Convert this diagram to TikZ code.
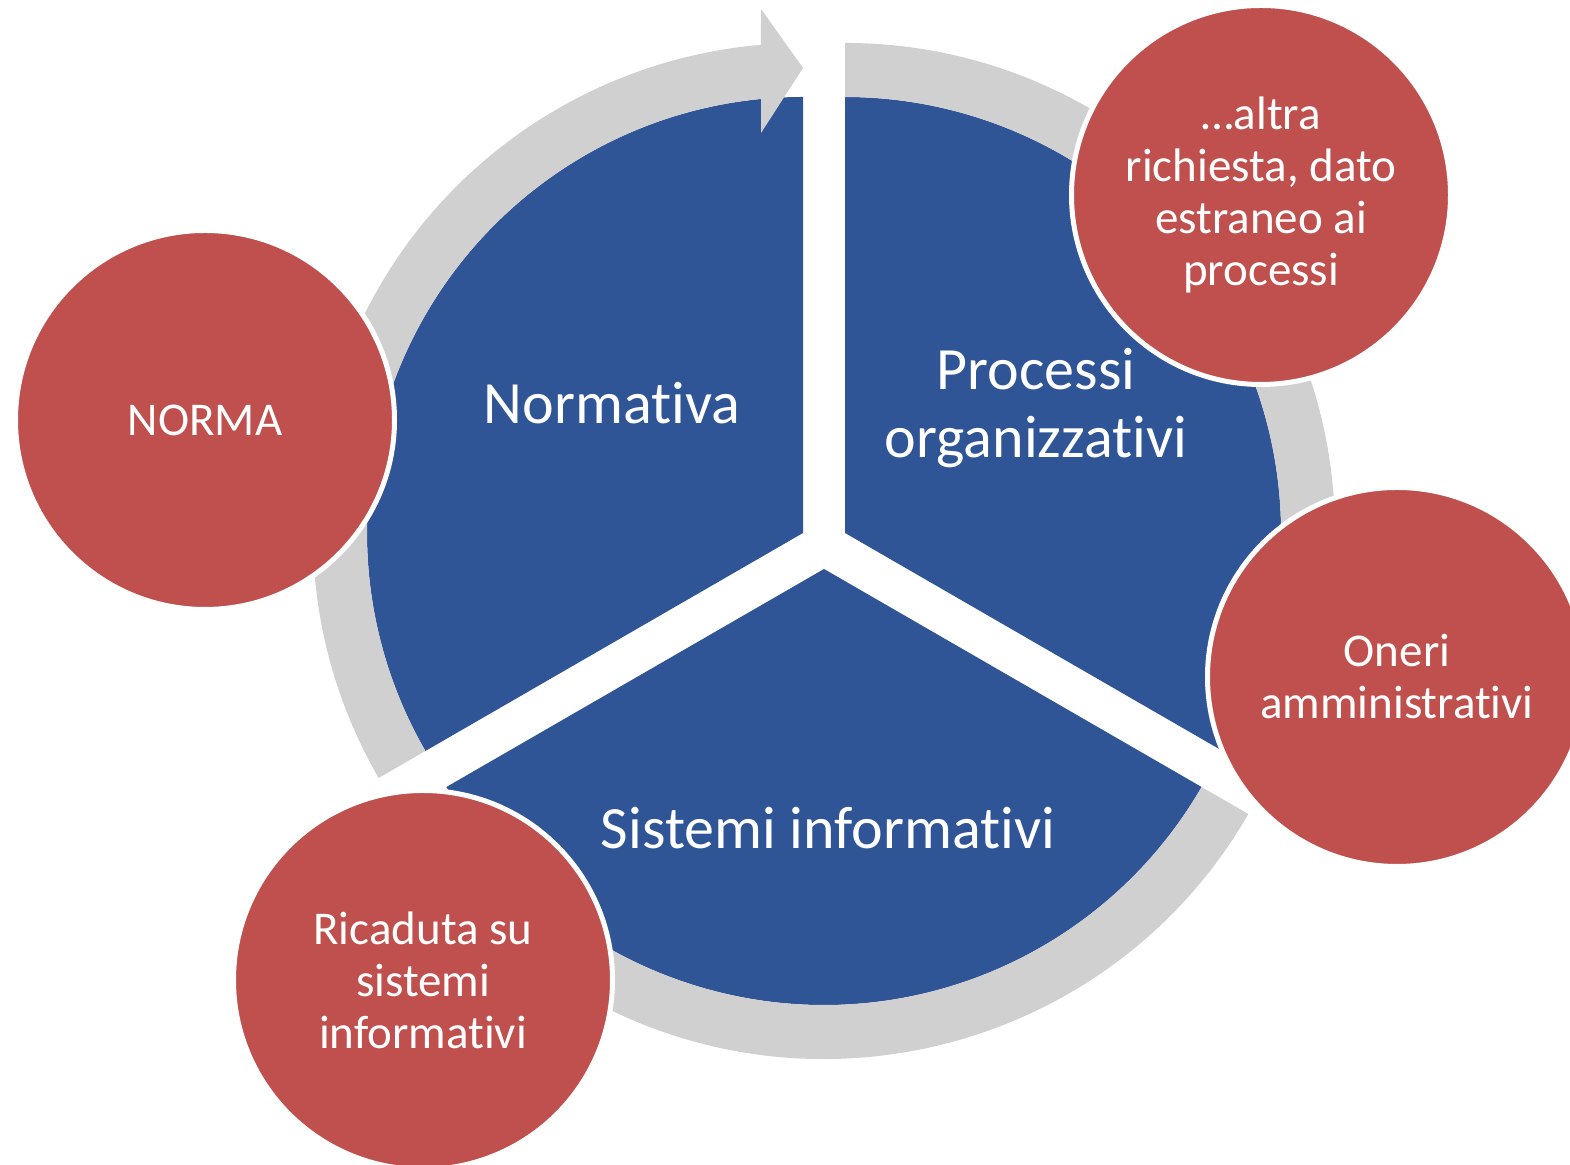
\documentclass[tikz,border=0pt]{standalone}
\usepackage{fontspec}
\setmainfont{Carlito}
\usepackage{tikz}
\usetikzlibrary{calc,positioning}
\definecolor{segblue}{HTML}{2F5597}
\definecolor{segred}{HTML}{C0504D}
\definecolor{seggray}{HTML}{D0D0D0}
\newcommand{\nolig}{\kern0pt}
\tikzset{segment/.style={fill=segblue},
  ring arrow/.style={fill=seggray},
  side circle/.style={circle,
    fill=segred,
    draw=white, line width=2.5pt,
    minimum size=189.5pt,
    inner sep=0pt,
    text=white, align=center,
    font=\fontsize{23.5}{26}\selectfont
  },
  big label/.style={text=white, align=center,
    font=\fontsize{30}{34}\selectfont
  }
}

\begin{document}
\begin{tikzpicture}[x=0.5pt,y=0.5pt]
    \useasboundingbox (0,0) rectangle (1570,1165);
    \clip (0,0) rectangle (1570,1165);
    \coordinate (norm) at (803,632);
    \coordinate (proc) at (845,632);
    \coordinate (sist) at (824,596);
    % exploded segments with their gray arrows
    \foreach \c/\r in {norm/0, proc/-120, sist/120} {
        \begin{scope}[shift={(\c)}, rotate=\r]
            \fill[segment] (0,0) -- (90:436) arc[start angle=90, end angle=210, radius=436] -- cycle;
            \fill[ring arrow] (210:490) arc[start angle=210, end angle=94.92, radius=490]
                -- (-42,524) -- (0,465) -- (-42,400) -- (-42,434)
                arc[start angle=95.53, end angle=210, radius=436] -- cycle;
        \end{scope}
    }
    \node[big label] (normL) at (612,762) {Normat\nolig iva};
    \node[big label] (procL) at (1036,757) {Processi\\organizzat\nolig ivi};
    \node[big label] (sistL) at (828,337) {Sistemi informat\nolig ivi};
    \node[side circle] (normaC) at (205,745) {NORMA};
    \node[side circle] (altraC) at (1261,970) {…altra\\richiesta, dato\\estraneo ai\\processi};
    \node[side circle] (oneriC) at (1397,488) {Oneri\\amministrat\nolig ivi};
    \node[side circle] (ricC) at (423,185) {Ricaduta su\\sistemi\\informat\nolig ivi};
\end{tikzpicture}
\end{document}
